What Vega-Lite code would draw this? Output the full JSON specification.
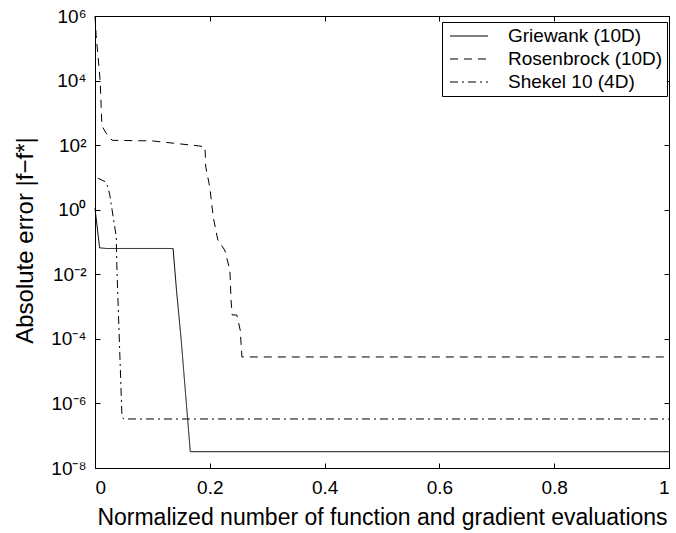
{
  "$schema": "https://vega.github.io/schema/vega-lite/v6.json",
  "autosize": "none",
  "width": 574,
  "height": 452,
  "padding": {"left": 95, "top": 16, "right": 7, "bottom": 65},
  "background": "white",
  "datasets": {
    "lines": [
      {"s": "Griewank (10D)", "x": 0, "y": 1.12},
      {"s": "Griewank (10D)", "x": 0.008, "y": 0.066},
      {"s": "Griewank (10D)", "x": 0.02, "y": 0.063},
      {"s": "Griewank (10D)", "x": 0.136, "y": 0.063},
      {"s": "Griewank (10D)", "x": 0.142, "y": 0.0032},
      {"s": "Griewank (10D)", "x": 0.15, "y": 0.0001},
      {"s": "Griewank (10D)", "x": 0.166, "y": 3.2e-8},
      {"s": "Griewank (10D)", "x": 1, "y": 3.2e-8},
      {"s": "Rosenbrock (10D)", "x": 0, "y": 1000000},
      {"s": "Rosenbrock (10D)", "x": 0.002, "y": 250000},
      {"s": "Rosenbrock (10D)", "x": 0.009, "y": 10000},
      {"s": "Rosenbrock (10D)", "x": 0.012, "y": 400},
      {"s": "Rosenbrock (10D)", "x": 0.019, "y": 240},
      {"s": "Rosenbrock (10D)", "x": 0.03, "y": 141},
      {"s": "Rosenbrock (10D)", "x": 0.1, "y": 135},
      {"s": "Rosenbrock (10D)", "x": 0.18, "y": 95},
      {"s": "Rosenbrock (10D)", "x": 0.1916, "y": 89},
      {"s": "Rosenbrock (10D)", "x": 0.193, "y": 21},
      {"s": "Rosenbrock (10D)", "x": 0.195, "y": 13.8},
      {"s": "Rosenbrock (10D)", "x": 0.2, "y": 5.0},
      {"s": "Rosenbrock (10D)", "x": 0.206, "y": 0.59},
      {"s": "Rosenbrock (10D)", "x": 0.214, "y": 0.115},
      {"s": "Rosenbrock (10D)", "x": 0.226, "y": 0.056},
      {"s": "Rosenbrock (10D)", "x": 0.235, "y": 0.0135},
      {"s": "Rosenbrock (10D)", "x": 0.237, "y": 0.0016},
      {"s": "Rosenbrock (10D)", "x": 0.239, "y": 0.00055},
      {"s": "Rosenbrock (10D)", "x": 0.247, "y": 0.00055},
      {"s": "Rosenbrock (10D)", "x": 0.253, "y": 0.000186},
      {"s": "Rosenbrock (10D)", "x": 0.256, "y": 2.75e-5},
      {"s": "Rosenbrock (10D)", "x": 1, "y": 2.75e-5},
      {"s": "Shekel 10 (4D)", "x": 0.005, "y": 9.5},
      {"s": "Shekel 10 (4D)", "x": 0.019, "y": 7.2},
      {"s": "Shekel 10 (4D)", "x": 0.023, "y": 4.7},
      {"s": "Shekel 10 (4D)", "x": 0.026, "y": 2.7},
      {"s": "Shekel 10 (4D)", "x": 0.037, "y": 0.145},
      {"s": "Shekel 10 (4D)", "x": 0.038, "y": 0.0195},
      {"s": "Shekel 10 (4D)", "x": 0.04, "y": 0.0016},
      {"s": "Shekel 10 (4D)", "x": 0.047, "y": 3.8e-7},
      {"s": "Shekel 10 (4D)", "x": 0.05, "y": 3.3e-7},
      {"s": "Shekel 10 (4D)", "x": 1, "y": 3.3e-7}
    ]
  },
  "data": {"name": "lines"},
  "layer": [
    {
      "mark": {"type": "line", "color": "black", "strokeWidth": 1},
      "encoding": {
        "x": {
          "field": "x", "type": "quantitative",
          "scale": {"domain": [0, 1], "nice": false, "zero": false},
          "axis": {
            "orient": "bottom",
            "values": [0, 0.2, 0.4, 0.6, 0.8, 1],
            "format": "~g",
            "title": "Normalized number of function and gradient evaluations",
            "titleFontSize": 23,
            "grid": false,
            "tickSize": -5,
            "labelPadding": 15,
            "titlePadding": 9
          }
        },
        "y": {
          "field": "y", "type": "quantitative",
          "scale": {"type": "log", "domain": [1e-8, 1e6], "nice": false},
          "axis": {
            "orient": "left",
            "values": [1e-8, 1e-6, 1e-4, 1e-2, 1, 100, 10000, 1000000],
            "labelExpr": "'10' + (datum.value < 1 ? '⁻' : '') + substring('⁰¹²³⁴⁵⁶⁷⁸⁹', abs(round(log(datum.value)/LN10)), abs(round(log(datum.value)/LN10)) + 1)",
            "title": "Absolute error  |f−f*|",
            "titleFontSize": 24,
            "titleX": -70,
            "titleY": 224,
            "titleBaseline": "middle",
            "grid": false,
            "tickSize": -5,
            "labelPadding": 14
          }
        },
        "strokeDash": {
          "field": "s", "type": "nominal",
          "scale": {
            "domain": ["Griewank (10D)", "Rosenbrock (10D)", "Shekel 10 (4D)"],
            "range": [[1, 0], [8, 6], [8, 4, 2, 4]]
          },
          "legend": {
            "orient": "none",
            "legendX": 347,
            "legendY": 6,
            "title": null,
            "symbolType": "M-2,0H2",
            "symbolSize": 361,
            "symbolOffset": 13,
            "symbolStrokeWidth": 1,
            "symbolStrokeColor": "black",
            "labelFontSize": 19,
            "labelFont": "Liberation Sans",
            "labelColor": "black",
            "labelOffset": 29,
            "rowPadding": 3,
            "padding": 4,
            "strokeColor": "black",
            "fillColor": "white"
          }
        }
      }
    },
    {
      "mark": {"type": "line", "opacity": 0},
      "encoding": {
        "x": {
          "field": "x", "type": "quantitative",
          "axis": {"orient": "top", "values": [0, 0.2, 0.4, 0.6, 0.8, 1], "labels": false, "title": null, "grid": false, "tickSize": -5}
        },
        "y": {
          "field": "y", "type": "quantitative",
          "axis": {"orient": "right", "values": [1e-8, 1e-6, 1e-4, 1e-2, 1, 100, 10000, 1000000], "labels": false, "title": null, "grid": false, "tickSize": -5}
        }
      }
    }
  ],
  "resolve": {"axis": {"x": "independent", "y": "independent"}},
  "config": {
    "view": {"stroke": "black", "strokeWidth": 1},
    "axis": {
      "domainColor": "black",
      "tickColor": "black",
      "labelColor": "black",
      "titleColor": "black",
      "labelFont": "Liberation Sans",
      "titleFont": "Liberation Sans",
      "labelFontSize": 19,
      "titleFontWeight": "normal"
    }
  }
}
